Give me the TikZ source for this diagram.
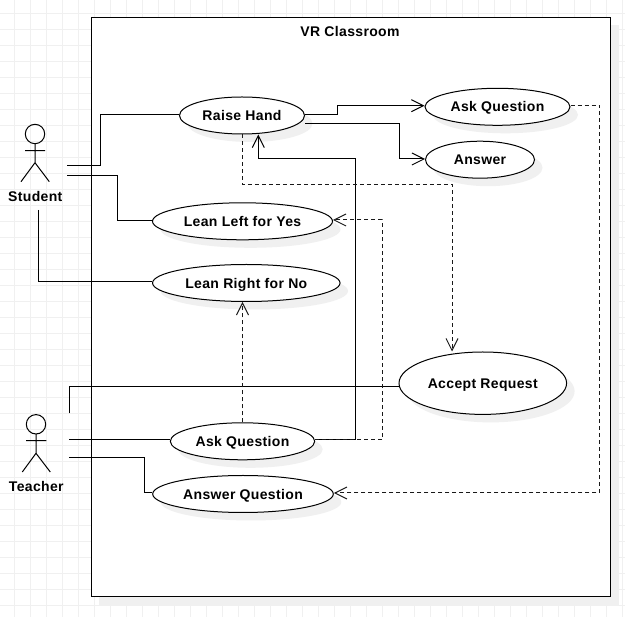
\documentclass[tikz,border=0pt]{standalone}
\usepackage{fontspec}
\setmainfont{Liberation Sans}[LetterSpace=2.5]
\usetikzlibrary{shapes.geometric, shadows, arrows.meta}
\tikzset{
  lbl/.style={font=\fontsize{14}{16}\selectfont\bfseries, text height=10.4pt, text depth=0pt},
  softshadow/.style={copy shadow={shadow xshift=8pt, shadow yshift=-8pt, draw=none, fill=black!6}},
  usecase/.style={ellipse, draw, fill=white, line width=1pt, inner sep=0pt, minimum width=#1, minimum height=37pt, softshadow, lbl},
  assoc/.style={line width=1pt},
  dep/.style={line width=1pt, dash pattern=on 4pt off 3pt, black!90},
  tip/.style={->, >={Straight Barb[length=12pt, width=12pt]}},
}
\begin{document}
\begin{tikzpicture}[x=1pt, y=-1pt]
\useasboundingbox (0,0) rectangle (625,617);
%% grid
\foreach \gx in {0,...,38} \draw[color=black!6, line width=1pt] (14.7+16*\gx,0) -- (14.7+16*\gx,617);
\foreach \gy in {0,...,37} \draw[color=black!6, line width=1pt] (0,13.3+16*\gy) -- (625,13.3+16*\gy);
%% system box
\node[draw, fill=white, line width=1pt, minimum width=519.5pt, minimum height=579.5pt, softshadow] (room) at (350.75,307.25) {};
\node[lbl] (roomTitle) at (350,31) {VR Classroom};
%% use cases
\node[usecase=125pt] (raise) at (242,115.5) {Raise Hand};
\node[usecase=180pt] (leanLeft) at (242.5,221.3) {Lean Left for Yes};
\node[usecase=187.5pt] (leanRight) at (246.3,283) {Lean Right for No};
\node[usecase=145pt] (askTop) at (497.5,106.8) {Ask Question};
\node[usecase=109pt] (answer) at (480,159.7) {Answer};
\node[usecase=167.6pt, minimum height=62.4pt] (accept) at (482.8,383.2) {Accept Request};
\node[usecase=144.4pt] (askLow) at (242.5,441.3) {Ask Question};
\node[usecase=180.6pt] (answerQ) at (243,494) {Answer Question};
%% actors
\draw[assoc] (35,134) circle (9.7);
\draw[assoc] (35,143.7) -- (35,162.7) (25,150.7) -- (45,150.7) (21,181.7) -- (35,162.7) -- (49.3,181.7);
\node[lbl] (student) at (35.3,196) {Student};
\draw[assoc] (36,424.3) circle (9.7);
\draw[assoc] (36,434) -- (36,453.3) (26,440.7) -- (46.3,440.7) (22.3,472) -- (36,453.3) -- (50.3,472);
\node[lbl] (teacher) at (36.3,486.5) {Teacher};
\coordinate (studentA) at (67,166);
\coordinate (studentB) at (67,175.7);
\coordinate (studentC) at (38.3,210);
\coordinate (teacherA) at (69,413.3);
\coordinate (teacherB) at (69,440);
\coordinate (teacherC) at (69,457.3);
%% actor links
\draw[assoc] (studentA) -- ++(33,0) |- ([yshift=.8pt]raise.west);
\draw[assoc] (studentB) -- ++(50.7,0) |- ([yshift=1pt]leanLeft.west);
\draw[assoc] (studentC) |- ([yshift=1.3pt]leanRight.west);
\draw[assoc] (teacherA) |- ([yshift=-3.8pt]accept.west);
\draw[assoc] (teacherB) -- ([yshift=1.3pt]askLow.west);
\draw[assoc] (teacherC) -- ++(75,0) |- ([yshift=1pt]answerQ.west);
%% solid flows
\draw[assoc, tip] ([yshift=.8pt]raise.east) -- ++(32.8,0) |- ([yshift=1.1pt]askTop.west);
\draw[assoc, tip] ([yshift=-7.8pt]raise.east) -- ++(94.3,0) |- ([yshift=.7pt]answer.west);
\draw[assoc, tip] ([yshift=1.3pt]askLow.east) -- ++(40.6,0) -- ++(0,-281.3) -| ([xshift=16.3pt]raise.south);
%% dashed flows
\draw[dep, tip] (raise.south) -- ++(0,50.2) -| ([xshift=-30.8pt]accept.north);
\draw[dep, tip] (askLow.north) -- (leanRight.south -| askLow.north);
\draw[dep, tip] ([yshift=1.3pt]askLow.east) -- ++(67,0) |- ([yshift=1.3pt]leanLeft.east);
\draw[dep, tip] ([yshift=1.1pt]askTop.east) -- ++(29.3,0) |- ([yshift=1pt]answerQ.east);
\end{tikzpicture}
\end{document}
